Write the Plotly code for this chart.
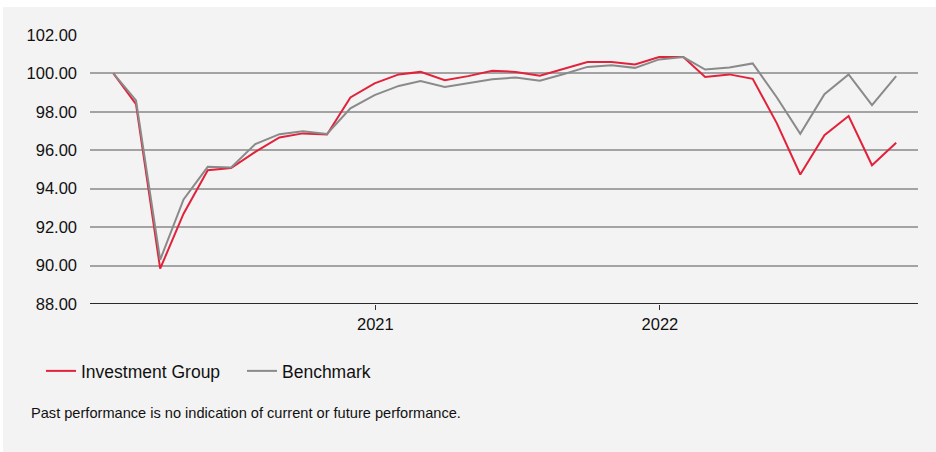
import plotly.graph_objects as go
import pandas as pd

dates = pd.date_range("2020-01-31", "2022-10-31", freq="ME").strftime("%Y-%m-%d").tolist()

investment_group = [100.00, 98.40, 89.84, 92.70, 94.96, 95.08, 95.92, 96.67, 96.88, 96.82,
                    98.75, 99.48, 99.95, 100.08, 99.65, 99.86, 100.14, 100.08, 99.88, 100.26,
                    100.59, 100.59, 100.47, 100.85, 100.85, 99.81, 99.95, 99.72, 97.40, 94.74,
                    96.79, 97.78, 95.22, 96.39]
benchmark = [100.00, 98.60, 90.30, 93.44, 95.14, 95.10, 96.32, 96.84, 96.99, 96.85,
             98.18, 98.87, 99.35, 99.60, 99.30, 99.51, 99.70, 99.79, 99.62, 99.97,
             100.34, 100.43, 100.29, 100.73, 100.85, 100.20, 100.31, 100.52, 98.75, 96.86,
             98.92, 99.95, 98.35, 99.86]

series_names = ["Investment Group", "Benchmark"]
y_ticks = [88, 90, 92, 94, 96, 98, 100, 102]
x_tick_vals = ["2021-01-01", "2022-01-01"]
x_tick_text = ["2021", "2022"]
footnote = "Past performance is no indication of current or future performance."

FONT = "Liberation Sans, Arial, sans-serif"
W, H = 936, 452
ML, MR, MT, MB = 90, 18, 35, 148
PW, PH = W - ML - MR, H - MT - MB

def px_x(p):
    return (p - ML) / PW

def px_y(p):
    return (H - MB - p) / PH

fig = go.Figure()
fig.add_trace(go.Scatter(x=dates, y=investment_group, name=series_names[0], mode="lines",
                         line=dict(color="#e2223b", width=2)))
fig.add_trace(go.Scatter(x=dates, y=benchmark, name=series_names[1], mode="lines",
                         line=dict(color="#8a8a8a", width=2)))

fig.update_layout(
    width=W, height=H,
    margin=dict(l=ML, r=MR, t=MT, b=MB),
    paper_bgcolor="#ffffff",
    plot_bgcolor="#f3f3f3",
    font=dict(family=FONT, color="#111111"),
    showlegend=True,
    legend=dict(orientation="h", x=px_x(41), xanchor="left", y=px_y(371), yanchor="middle",
                font=dict(size=17.5, family=FONT, color="#111111"),
                bgcolor="rgba(0,0,0,0)", entrywidth=156, itemwidth=30),
    shapes=[dict(type="rect", xref="paper", yref="paper", layer="below",
                 x0=px_x(3), x1=px_x(W + 5), y0=px_y(H + 5), y1=px_y(7),
                 fillcolor="#f3f3f3", line=dict(width=0))],
    annotations=[dict(text=footnote, xref="paper", yref="paper", x=px_x(29), y=px_y(413),
                      xanchor="left", yanchor="middle", showarrow=False,
                      font=dict(size=14.6, family=FONT, color="#111111"))],
)

fig.update_xaxes(type="date", range=["2020-01-01", "2022-11-28"],
                 tickmode="array", tickvals=x_tick_vals, ticktext=x_tick_text,
                 ticks="outside", ticklen=5, tickwidth=1, tickcolor="#333333",
                 showgrid=False, showline=False, zeroline=False,
                 tickfont=dict(size=16.5, family=FONT, color="#111111"))
fig.update_yaxes(range=[88, 102], tickmode="array", tickvals=y_ticks, tickformat=".2f",
                 showgrid=True, gridcolor="#a3a3a3", gridwidth=1.5,
                 zeroline=False, showline=False, ticks="", ticklabelstandoff=12,
                 tickfont=dict(size=16.5, family=FONT, color="#111111"))
# axis baseline at 88
fig.add_hline(y=88, line=dict(color="#2a2a2a", width=2))

fig.write_html("out.html",
               config={"displayModeBar": False},
               post_script="document.body.style.margin='0';document.body.style.padding='0';"
                           "document.body.style.overflow='hidden';")
